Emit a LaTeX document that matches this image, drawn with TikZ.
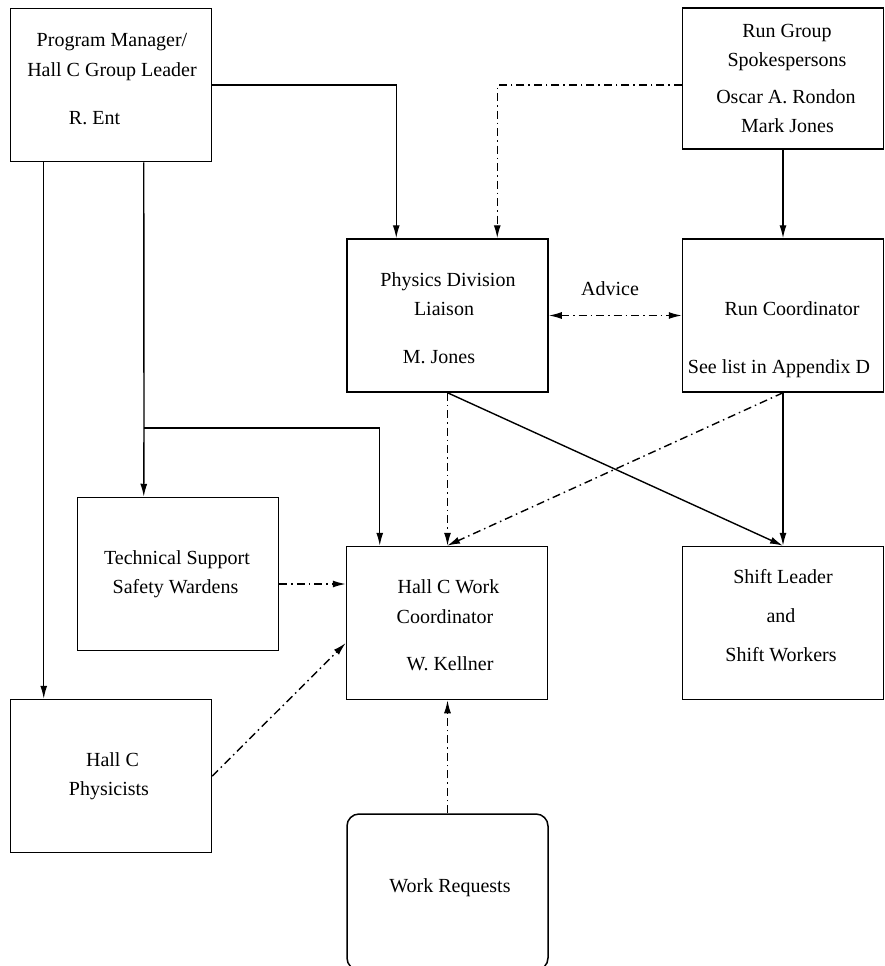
\documentclass[tikz,border=0pt]{standalone}
\usepackage{fontspec}
\setmainfont{Liberation Serif}
\usetikzlibrary{arrows.meta}
\begin{document}
\begin{tikzpicture}[x=1pt,y=-1pt,
  every node/.style={font=\fontsize{20}{24}\selectfont},
  box/.style={draw,line width=1.5pt,minimum width=201pt,minimum height=153pt,inner sep=0pt},
  txt/.style={inner sep=0pt,text height=13pt,text depth=0pt,anchor=center},
  conn/.style={line width=1.4pt,-{Latex[length=13pt,width=7pt]}},
  plain/.style={line width=1.4pt},
  dd/.style={dash pattern=on 8pt off 4pt on 1.5pt off 4pt}]
\useasboundingbox (0,0) rectangle (885,966);
% boxes
\node[box] (pm) at (111,85) {};
\node[box,minimum height=141pt] (rg) at (783,78.5) {};
\node[box] (phys) at (447.5,315.5) {};
\node[box] (rc) at (783,315.5) {};
\node[box] (tech) at (178,574) {};
\node[box] (wc) at (447,623) {};
\node[box] (shift) at (783,623) {};
\node[box] (phy2) at (111,776) {};
\node[box,rounded corners=12pt,minimum height=156pt] (wr) at (447.5,892) {};
% texts
\node[txt] (t1) at (112,40) {Program Manager/};
\node[txt] (t2) at (112,70) {Hall C Group Leader};
\node[txt] (t3) at (94.5,118) {R. Ent};
\node[txt] (t4) at (787,31) {Run Group};
\node[txt] (t5) at (787,60) {Spokespersons};
\node[txt] (t6) at (786,97) {Oscar A. Rondon};
\node[txt] (t7) at (787.5,126) {Mark Jones};
\node[txt] (t8) at (448,280) {Physics Division};
\node[txt] (t9) at (444,309) {Liaison};
\node[txt] (t10) at (439,357) {M. Jones};
\node[txt] (t11) at (792,309) {Run Coordinator};
\node[txt] (t12) at (779,367) {See list in Appendix D};
\node[txt] (t13) at (177,558) {Technical Support};
\node[txt] (t14) at (175.5,587) {Safety Wardens};
\node[txt] (t15) at (448.5,587) {Hall C Work};
\node[txt] (t16) at (445,617) {Coordinator};
\node[txt] (t17) at (450,664) {W. Kellner};
\node[txt] (t18) at (783,577) {Shift Leader};
\node[txt] (t19) at (781,616) {and};
\node[txt] (t20) at (781,655) {Shift Workers};
\node[txt] (t21) at (112.5,760) {Hall C};
\node[txt] (t22) at (109,789) {Physicists};
\node[txt] (t23) at (450,886) {Work Requests};
\node[txt] (adv) at (610,289) {Advice};
% connectors
\draw[conn] (pm.east) -| ([xshift=50pt]phys.north west);
\draw[conn,dd] ([yshift=-6.5pt]rg.west) -| ([xshift=151pt]phys.north west);
\draw[conn] (rg.south) -- (rc.north);
\draw[line width=1.4pt,dd,{Latex[length=13pt,width=7pt]}-{Latex[length=13pt,width=7pt]}] (phys.east) -- (rc.west);
\draw[conn] ([xshift=34pt]pm.south west) -- ([xshift=34pt]phy2.north west);
\coordinate (br) at (144,428);
\draw[plain] ([xshift=134pt]pm.south west) -- (br);
\draw[conn] (br) -- ([xshift=67pt]tech.north west);
\draw[conn] (br) -| ([xshift=34pt]wc.north west);
\draw[conn,dd] (phys.south) -- (phys.south |- wc.north);
\draw[conn] (phys.south) -- (shift.north);
\draw[conn] (rc.south) -- (shift.north);
\draw[conn,dd] (rc.south) -- (wc.north);
\draw[conn,dd] ([yshift=-10pt]tech.east) -- ([yshift=-10pt]tech.east -| wc.west);
\draw[conn,dd] (phy2.east) -- ([yshift=-20pt]wc.west);
\draw[conn,dd] (wr.north) -- (wr.north |- wc.south);
\end{tikzpicture}
\end{document}
